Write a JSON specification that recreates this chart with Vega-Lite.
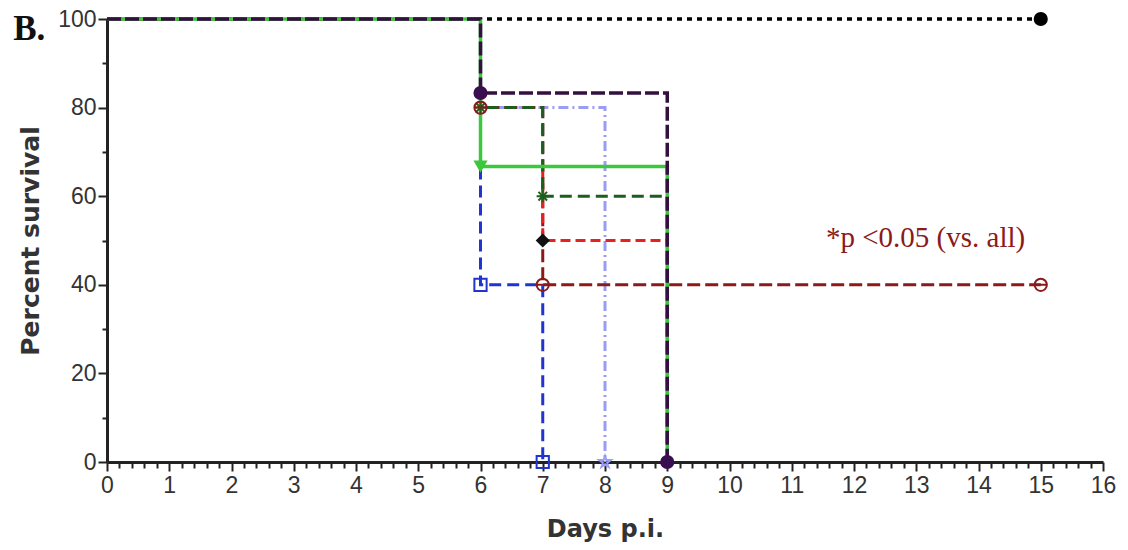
{
  "$schema": "https://vega.github.io/schema/vega-lite/v6.json",
  "width": 996,
  "height": 443,
  "autosize": "none",
  "padding": {"left": 107, "top": 19, "right": 25, "bottom": 88},
  "background": "white",
  "config": {"view": {"stroke": null}},
  "datasets": {
    "km": [
      {"series": "black", "day": 0, "surv": 100}, {"series": "black", "day": 15, "surv": 100},
      {"series": "lavender", "day": 0, "surv": 100}, {"series": "lavender", "day": 6, "surv": 80}, {"series": "lavender", "day": 8, "surv": 0},
      {"series": "maroon", "day": 0, "surv": 100}, {"series": "maroon", "day": 6, "surv": 80}, {"series": "maroon", "day": 7, "surv": 40}, {"series": "maroon", "day": 15, "surv": 40},
      {"series": "red", "day": 0, "surv": 100}, {"series": "red", "day": 6, "surv": 66.7}, {"series": "red", "day": 7, "surv": 50}, {"series": "red", "day": 9, "surv": 0},
      {"series": "blue", "day": 0, "surv": 100}, {"series": "blue", "day": 6, "surv": 40}, {"series": "blue", "day": 7, "surv": 0},
      {"series": "dkgreen", "day": 0, "surv": 100}, {"series": "dkgreen", "day": 6, "surv": 80}, {"series": "dkgreen", "day": 7, "surv": 60}, {"series": "dkgreen", "day": 9, "surv": 0},
      {"series": "green", "day": 0, "surv": 100}, {"series": "green", "day": 6, "surv": 66.7}, {"series": "green", "day": 9, "surv": 0},
      {"series": "purple", "day": 0, "surv": 100}, {"series": "purple", "day": 6, "surv": 83.3}, {"series": "purple", "day": 9, "surv": 0}
    ],
    "marks": [
      {"series": "black", "day": 15, "surv": 100},
      {"series": "purple", "day": 6, "surv": 83.3},
      {"series": "purple", "day": 9, "surv": 0},
      {"series": "green", "day": 6, "surv": 66.7},
      {"series": "red", "day": 7, "surv": 50},
      {"series": "dkgreen", "day": 6, "surv": 80},
      {"series": "dkgreen", "day": 7, "surv": 60},
      {"series": "blue", "day": 6, "surv": 40},
      {"series": "blue", "day": 7, "surv": 0},
      {"series": "maroon", "day": 6, "surv": 80},
      {"series": "maroon", "day": 7, "surv": 40},
      {"series": "maroon", "day": 15, "surv": 40},
      {"series": "lavender", "day": 8, "surv": 0}
    ],
    "notes": [
      {"note": "*p <0.05 (vs. all)", "day": 13.15, "surv": 50.5}
    ],
    "panel": [
      {"label": "B.", "day": -1.25, "surv": 95.2}
    ]
  },
  "encoding": {
    "x": {
      "field": "day", "type": "quantitative",
      "scale": {"domain": [0, 16], "nice": false, "zero": false},
      "axis": {
        "title": "Days p.i.",
        "values": [0,0.2,0.4,0.6,0.8,1,1.2,1.4,1.6,1.8,2,2.2,2.4,2.6,2.8,3,3.2,3.4,3.6,3.8,4,4.2,4.4,4.6,4.8,5,5.2,5.4,5.6,5.8,6,6.2,6.4,6.6,6.8,7,7.2,7.4,7.6,7.8,8,8.2,8.4,8.6,8.8,9,9.2,9.4,9.6,9.8,10,10.2,10.4,10.6,10.8,11,11.2,11.4,11.6,11.8,12,12.2,12.4,12.6,12.8,13,13.2,13.4,13.6,13.8,14,14.2,14.4,14.6,14.8,15,15.2,15.4,15.6,15.8,16],
        "labelExpr": "datum.value % 1 === 0 ? format(datum.value, 'd') : ''",
        "grid": false,
        "domainColor": "#222222", "domainWidth": 3,
        "tickColor": "#222222", "tickWidth": 2,
        "tickSize": {"condition": {"test": "datum.value % 1 === 0", "value": 9}, "value": 6},
        "labelFont": "Liberation Sans", "labelFontSize": 23, "labelColor": "#333333", "labelPadding": 3,
        "labelFlush": false, "labelOverlap": false,
        "titleFont": "DejaVu Sans", "titleFontSize": 24, "titleFontWeight": "bold", "titleColor": "#333333", "titlePadding": 20
      }
    },
    "y": {
      "field": "surv", "type": "quantitative",
      "scale": {"domain": [0, 100], "nice": false},
      "axis": {
        "title": "Percent survival",
        "values": [0,10,20,30,40,50,60,70,80,90,100],
        "labelExpr": "datum.value % 20 === 0 ? format(datum.value, 'd') : ''",
        "grid": false,
        "domainColor": "#222222", "domainWidth": 3,
        "tickColor": "#222222", "tickWidth": 2,
        "tickSize": {"condition": {"test": "datum.value % 20 === 0", "value": 9}, "value": 5},
        "labelFont": "Liberation Sans", "labelFontSize": 23, "labelColor": "#333333", "labelPadding": 2,
        "labelFlush": false, "labelOverlap": false,
        "titleFont": "DejaVu Sans", "titleFontSize": 25, "titleFontWeight": "bold", "titleColor": "#333333", "titlePadding": 14
      }
    }
  },
  "layer": [
    {"data": {"name": "km"}, "transform": [{"filter": "datum.series === 'black'"}], "mark": {"type": "line", "interpolate": "step-after", "color": "#000000", "strokeWidth": 3.5, "strokeDash": [5, 5]}},
    {"data": {"name": "km"}, "transform": [{"filter": "datum.series === 'lavender'"}], "mark": {"type": "line", "interpolate": "step-after", "color": "#9a9cf5", "strokeWidth": 3, "strokeDash": [10, 4, 2, 4]}},
    {"data": {"name": "km"}, "transform": [{"filter": "datum.series === 'maroon'"}], "mark": {"type": "line", "interpolate": "step-after", "color": "#8b1a1a", "strokeWidth": 3, "strokeDash": [13, 5]}},
    {"data": {"name": "km"}, "transform": [{"filter": "datum.series === 'red'"}], "mark": {"type": "line", "interpolate": "step-after", "color": "#e52121", "strokeWidth": 3, "strokeDash": [10, 5]}},
    {"data": {"name": "km"}, "transform": [{"filter": "datum.series === 'blue'"}], "mark": {"type": "line", "interpolate": "step-after", "color": "#1f35d0", "strokeWidth": 3, "strokeDash": [12, 6]}},
    {"data": {"name": "km"}, "transform": [{"filter": "datum.series === 'dkgreen'"}], "mark": {"type": "line", "interpolate": "step-after", "color": "#1d5e1d", "strokeWidth": 3, "strokeDash": [12, 6]}},
    {"data": {"name": "km"}, "transform": [{"filter": "datum.series === 'green'"}], "mark": {"type": "line", "interpolate": "step-after", "color": "#3cc83c", "strokeWidth": 3.5}},
    {"data": {"name": "km"}, "transform": [{"filter": "datum.series === 'purple'"}], "mark": {"type": "line", "interpolate": "step-after", "color": "#33103f", "strokeWidth": 3.5, "strokeDash": [14, 4]}},
    {
      "data": {"name": "marks"},
      "transform": [{"filter": "indexof(['black','purple','green','red'], datum.series) >= 0"}],
      "mark": {"type": "point", "filled": true, "opacity": 1, "size": 200},
      "encoding": {
        "color": {"field": "series", "type": "nominal", "legend": null,
          "scale": {"domain": ["black","purple","green","red","dkgreen","blue","maroon","lavender"], "range": ["#000000","#3a0f4f","#3cc83c","#111111","#1d5e1d","#1f35d0","#8b1a1a","#9a9cf5"]}},
        "shape": {"field": "series", "type": "nominal", "legend": null,
          "scale": {"domain": ["black","purple","green","red","dkgreen","blue","maroon","lavender"], "range": ["circle","circle","triangle-down","diamond","M-1,0L1,0M0,-1L0,1M-0.7,-0.7L0.7,0.7M-0.7,0.7L0.7,-0.7","square","M-1,0A1,1 0 1,0 1,0A1,1 0 1,0 -1,0ZM-1,0L1,0","M0,-1L0.224,-0.309L0.951,-0.309L0.363,0.118L0.588,0.809L0,0.382L-0.588,0.809L-0.363,0.118L-0.951,-0.309L-0.224,-0.309Z"]}}
      }
    },
    {
      "data": {"name": "marks"},
      "transform": [{"filter": "indexof(['dkgreen','blue','maroon','lavender'], datum.series) >= 0"}],
      "mark": {"type": "point", "filled": false, "opacity": 1, "size": 150, "strokeWidth": 2},
      "encoding": {
        "color": {"field": "series", "type": "nominal", "legend": null,
          "scale": {"domain": ["black","purple","green","red","dkgreen","blue","maroon","lavender"], "range": ["#000000","#3a0f4f","#3cc83c","#111111","#1d5e1d","#1f35d0","#8b1a1a","#9a9cf5"]}},
        "shape": {"field": "series", "type": "nominal", "legend": null,
          "scale": {"domain": ["black","purple","green","red","dkgreen","blue","maroon","lavender"], "range": ["circle","circle","triangle-down","diamond","M-1,0L1,0M0,-1L0,1M-0.7,-0.7L0.7,0.7M-0.7,0.7L0.7,-0.7","square","M-1,0A1,1 0 1,0 1,0A1,1 0 1,0 -1,0ZM-1,0L1,0","M0,-1L0.224,-0.309L0.951,-0.309L0.363,0.118L0.588,0.809L0,0.382L-0.588,0.809L-0.363,0.118L-0.951,-0.309L-0.224,-0.309Z"]}}
      }
    },
    {
      "data": {"name": "notes"},
      "mark": {"type": "text", "font": "Liberation Serif", "fontSize": 29, "color": "#8b1a1a", "align": "center", "baseline": "middle"},
      "encoding": {
        "text": {"field": "note", "type": "nominal"}
      }
    },
    {
      "data": {"name": "panel"},
      "mark": {"type": "text", "font": "Liberation Serif", "fontSize": 35, "fontWeight": "bold", "color": "#111111", "align": "center", "baseline": "alphabetic"},
      "encoding": {
        "text": {"field": "label", "type": "nominal"}
      }
    }
  ]
}
